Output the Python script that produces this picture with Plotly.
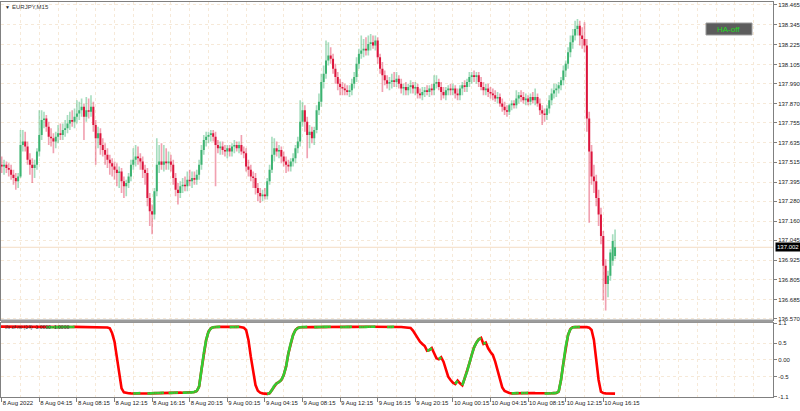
import plotly.graph_objects as go
from plotly.subplots import make_subplots

# ---------------- data (EURJPY M15, bars from 8 Aug 2022 00:00) ----------------
bar_index = list(range(263))

open_ = [
    137.47,137.50,137.49,137.50,137.48,137.47,137.44,137.42,137.40,137.43,
    137.62,137.64,137.61,137.53,137.50,137.48,137.50,137.58,137.68,137.77,
    137.78,137.73,137.67,137.66,137.64,137.67,137.69,137.68,137.71,137.72,
    137.75,137.77,137.76,137.79,137.81,137.83,137.85,137.79,137.83,137.82,
    137.85,137.74,137.66,137.69,137.62,137.59,137.56,137.53,137.51,137.49,
    137.47,137.45,137.46,137.40,137.37,137.39,137.43,137.50,137.53,137.55,
    137.54,137.52,137.47,137.45,137.30,137.22,137.20,137.34,137.50,137.52,
    137.50,137.52,137.51,137.52,137.50,137.42,137.35,137.33,137.37,137.38,
    137.37,137.41,137.40,137.42,137.41,137.44,137.50,137.59,137.65,137.67,
    137.68,137.69,137.67,137.62,137.60,137.61,137.59,137.58,137.60,137.58,
    137.61,137.62,137.60,137.62,137.58,137.57,137.49,137.47,137.43,137.42,
    137.36,137.33,137.31,137.32,137.31,137.40,137.47,137.56,137.60,137.58,
    137.59,137.55,137.52,137.50,137.49,137.52,137.54,137.60,137.64,137.76,
    137.83,137.76,137.68,137.70,137.66,137.71,137.83,137.88,138.00,138.05,
    138.13,138.16,138.14,138.08,138.03,137.99,137.97,137.96,137.95,137.94,
    137.95,137.99,138.03,138.11,138.17,138.19,138.20,138.19,138.23,138.24,
    138.22,138.25,138.15,138.08,138.04,138.01,137.99,138.00,138.01,138.00,
    138.02,137.99,137.96,137.97,137.95,137.97,137.98,137.96,137.97,137.93,
    137.92,137.94,137.95,137.94,137.96,137.95,137.99,138.00,137.97,137.94,
    137.92,137.95,137.96,137.95,137.96,137.93,137.92,137.96,137.98,137.97,
    138.00,138.03,138.04,138.03,138.04,138.00,137.97,137.95,137.96,137.94,
    137.93,137.92,137.90,137.91,137.87,137.85,137.83,137.82,137.86,137.87,
    137.86,137.90,137.92,137.91,137.89,137.90,137.88,137.91,137.89,137.91,
    137.87,137.83,137.81,137.80,137.84,137.89,137.93,137.95,137.96,137.98,
    138.01,138.07,138.11,138.18,138.24,138.28,138.32,138.34,138.28,138.26,
    138.22,137.78,137.58,137.43,137.40,137.30,137.20,137.07,136.89,136.78,
    136.83,136.92,136.95,
]

high = [
    137.58,137.55,137.53,137.52,137.51,137.50,137.47,137.45,137.45,137.71,
    137.71,137.70,137.64,137.57,137.54,137.53,137.60,137.83,137.83,137.82,
    137.80,137.76,137.72,137.69,137.70,137.74,137.75,137.75,137.77,137.80,
    137.82,137.83,137.84,137.89,137.88,137.90,137.87,137.91,137.90,137.92,
    137.88,137.77,137.73,137.72,137.66,137.63,137.60,137.56,137.54,137.52,
    137.51,137.49,137.48,137.43,137.41,137.45,137.53,137.60,137.62,137.61,
    137.57,137.55,137.50,137.48,137.33,137.26,137.36,137.66,137.62,137.63,
    137.62,137.60,137.58,137.56,137.53,137.45,137.39,137.40,137.42,137.43,
    137.46,137.47,137.46,137.46,137.47,137.53,137.62,137.68,137.70,137.70,
    137.71,137.71,137.70,137.65,137.64,137.64,137.62,137.62,137.62,137.63,
    137.65,137.64,137.64,137.68,137.61,137.60,137.53,137.50,137.46,137.45,
    137.39,137.36,137.35,137.36,137.42,137.50,137.67,137.66,137.64,137.62,
    137.61,137.58,137.55,137.53,137.54,137.57,137.62,137.67,137.89,137.88,
    137.86,137.79,137.74,137.73,137.73,137.86,137.93,138.05,138.10,138.25,
    138.24,138.21,138.17,138.11,138.06,138.02,138.00,137.99,137.98,137.98,
    138.02,138.06,138.15,138.20,138.28,138.26,138.27,138.28,138.29,138.28,
    138.28,138.27,138.17,138.12,138.07,138.04,138.03,138.05,138.06,138.06,
    138.04,138.02,137.99,138.00,137.99,138.01,138.00,138.00,137.99,137.96,
    137.97,137.97,137.98,137.98,137.99,138.04,138.04,138.02,138.00,137.97,
    137.97,137.98,137.99,137.99,137.98,137.96,137.98,138.00,138.01,138.02,
    138.06,138.06,138.07,138.06,138.06,138.03,138.00,137.99,137.99,137.97,
    137.96,137.95,137.94,137.93,137.90,137.88,137.86,137.87,137.89,137.89,
    137.95,137.94,137.95,137.94,137.93,137.92,137.93,137.94,137.96,137.93,
    137.90,137.86,137.84,137.86,137.92,137.96,137.99,137.99,138.00,138.03,
    138.10,138.13,138.21,138.28,138.32,138.37,138.38,138.37,138.33,138.36,
    138.26,137.82,137.62,137.50,137.44,137.35,137.24,137.10,136.93,136.86,
    136.99,137.08,137.11,
]

low = [
    137.40,137.45,137.44,137.45,137.43,137.41,137.38,137.35,137.36,137.42,
    137.58,137.58,137.50,137.44,137.39,137.42,137.47,137.55,137.65,137.72,
    137.70,137.62,137.61,137.57,137.60,137.63,137.65,137.65,137.67,137.69,
    137.71,137.73,137.72,137.75,137.77,137.79,137.65,137.76,137.78,137.79,
    137.70,137.50,137.60,137.56,137.55,137.50,137.48,137.44,137.43,137.41,
    137.37,137.36,137.33,137.30,137.31,137.36,137.40,137.47,137.49,137.50,
    137.47,137.42,137.38,137.25,137.13,137.08,137.17,137.31,137.45,137.47,
    137.46,137.47,137.47,137.46,137.38,137.31,137.26,137.30,137.33,137.34,
    137.34,137.37,137.36,137.38,137.38,137.41,137.47,137.56,137.61,137.63,
    137.64,137.64,137.37,137.57,137.56,137.56,137.55,137.54,137.55,137.55,
    137.57,137.58,137.57,137.56,137.54,137.46,137.43,137.40,137.36,137.32,
    137.28,137.27,137.28,137.29,137.29,137.38,137.45,137.52,137.55,137.54,
    137.51,137.49,137.45,137.46,137.46,137.49,137.51,137.57,137.61,137.73,
    137.70,137.54,137.60,137.63,137.62,137.69,137.80,137.85,137.96,138.02,
    138.10,138.11,138.05,137.99,137.95,137.92,137.92,137.92,137.92,137.91,
    137.92,137.96,138.00,138.08,138.14,138.15,138.16,138.16,138.19,138.20,
    138.19,138.11,138.05,137.94,137.98,137.96,137.95,137.96,137.97,137.97,
    137.96,137.93,137.92,137.92,137.92,137.93,137.93,137.92,137.90,137.90,
    137.89,137.91,137.92,137.91,137.92,137.92,137.96,137.95,137.89,137.90,
    137.89,137.92,137.92,137.92,137.90,137.89,137.89,137.92,137.94,137.94,
    137.97,137.99,138.00,137.99,137.97,137.95,137.92,137.92,137.91,137.90,
    137.89,137.88,137.87,137.85,137.82,137.80,137.79,137.80,137.83,137.84,
    137.84,137.87,137.88,137.87,137.86,137.86,137.86,137.87,137.86,137.85,
    137.80,137.74,137.76,137.77,137.81,137.86,137.90,137.91,137.93,137.95,
    137.98,138.03,138.08,138.15,138.20,138.25,138.28,138.22,138.20,138.18,
    137.70,137.15,137.38,137.33,137.25,137.13,137.02,136.68,136.62,136.70,
    136.80,136.89,136.93,
]

close = [
    137.50,137.49,137.50,137.48,137.47,137.44,137.42,137.40,137.43,137.62,
    137.64,137.61,137.53,137.50,137.48,137.50,137.58,137.68,137.77,137.78,
    137.73,137.67,137.66,137.64,137.67,137.69,137.68,137.71,137.72,137.75,
    137.77,137.76,137.79,137.81,137.83,137.85,137.79,137.83,137.82,137.85,
    137.74,137.66,137.69,137.62,137.59,137.56,137.53,137.51,137.49,137.47,
    137.45,137.46,137.40,137.37,137.39,137.43,137.50,137.53,137.55,137.54,
    137.52,137.47,137.45,137.30,137.22,137.20,137.34,137.50,137.52,137.50,
    137.52,137.51,137.52,137.50,137.42,137.35,137.33,137.37,137.38,137.37,
    137.41,137.40,137.42,137.41,137.44,137.50,137.59,137.65,137.67,137.68,
    137.69,137.67,137.62,137.60,137.61,137.59,137.58,137.60,137.58,137.61,
    137.62,137.60,137.62,137.58,137.57,137.49,137.47,137.43,137.42,137.36,
    137.33,137.31,137.32,137.31,137.40,137.47,137.56,137.60,137.58,137.59,
    137.55,137.52,137.50,137.49,137.52,137.54,137.60,137.64,137.76,137.83,
    137.76,137.68,137.70,137.66,137.71,137.83,137.88,138.00,138.05,138.13,
    138.16,138.14,138.08,138.03,137.99,137.97,137.96,137.95,137.94,137.95,
    137.99,138.03,138.11,138.17,138.19,138.20,138.19,138.23,138.24,138.22,
    138.25,138.15,138.08,138.04,138.01,137.99,138.00,138.01,138.00,138.02,
    137.99,137.96,137.97,137.95,137.97,137.98,137.96,137.97,137.93,137.92,
    137.94,137.95,137.94,137.96,137.95,137.99,138.00,137.97,137.94,137.92,
    137.95,137.96,137.95,137.96,137.93,137.92,137.96,137.98,137.97,138.00,
    138.03,138.04,138.03,138.04,138.00,137.97,137.95,137.96,137.94,137.93,
    137.92,137.90,137.91,137.87,137.85,137.83,137.82,137.86,137.87,137.86,
    137.90,137.92,137.91,137.89,137.90,137.88,137.91,137.89,137.91,137.87,
    137.83,137.81,137.80,137.84,137.89,137.93,137.95,137.96,137.98,138.01,
    138.07,138.11,138.18,138.24,138.28,138.32,138.34,138.28,138.26,138.22,
    137.78,137.58,137.43,137.40,137.30,137.20,137.07,136.89,136.78,136.83,
    136.97,137.04,137.002,
]

# inverse-fisher RSI(14) indicator values per bar
ift = [
    1.000,0.999,0.998,0.997,0.996,0.995,0.994,0.993,0.992,0.991,0.990,
    0.989,0.988,0.987,0.986,0.985,0.984,0.983,0.982,0.981,0.980,
    0.981,0.982,0.983,0.984,0.985,0.986,0.987,0.988,0.989,0.990,0.991,0.992,
    0.991,0.990,0.989,0.988,0.987,0.986,0.985,0.984,0.983,0.982,0.981,0.980,0.979,
    0.975,0.95,0.80,0.55,0.10,-0.45,-0.85,-0.97,-0.99,-0.995,-1.0,-1.003,
    -1.0,-0.997,-0.994,
    -0.997,-1.0,-1.003,
    -1.0,-0.997,-0.994,-0.991,-0.988,-0.985,-0.982,
    -0.985,-0.988,
    -0.985,-0.982,-0.979,-0.976,
    -0.979,-0.982,
    -0.979,-0.976,-0.973,-0.97,-0.96,
    -0.93,-0.8,-0.3,0.2,0.6,0.85,0.95,0.98,
    0.99,0.993,0.996,
    0.993,0.99,0.987,0.984,
    0.987,0.99,0.993,0.996,
    0.99,0.97,0.9,0.6,0.1,-0.4,-0.75,-0.92,-0.98,-1.0,-1.01,-1.015,
    -1.0,-0.9,-0.77,-0.7,-0.66,-0.6,-0.45,-0.2,0.2,0.5,0.75,0.9,0.96,0.98,0.985,0.99,0.993,
    0.99,0.987,0.984,
    0.986,0.988,0.990,0.992,0.994,0.996,0.998,
    0.995,0.992,0.989,0.986,
    0.988,0.990,0.992,0.994,0.996,
    0.993,0.990,0.987,
    0.989,0.991,0.993,0.995,0.997,0.998,0.999,
    0.997,0.995,0.993,0.991,0.989,
    0.991,0.993,0.995,
    0.993,0.991,0.989,0.987,0.985,0.983,
    0.96,0.88,0.76,0.64,0.55,0.48,0.42,0.28,0.30,0.36,
    0.22,0.05,0.02,0.08,-0.05,-0.3,-0.5,-0.6,-0.68,-0.72,
    -0.62,-0.70,-0.76,-0.55,-0.35,-0.1,0.15,0.38,0.52,0.62,
    0.66,0.48,0.52,0.35,0.24,0.15,-0.05,-0.3,-0.6,-0.82,
    -0.93,-0.97,-0.99,-1.0,
    -0.997,-0.994,-0.991,-0.994,-0.991,-0.988,-0.985,
    -0.988,-0.991,-0.994,-0.997,-1.0,-1.003,-1.006,
    -1.003,-1.0,-0.997,-0.994,-0.99,-0.95,
    -0.6,-0.1,0.4,0.75,0.93,0.98,0.985,0.99,0.993,
    0.99,0.987,0.984,0.97,
    0.9,0.6,0.0,-0.6,-0.95,-0.99,-1.0,-1.002,-1.004,-1.006,-1.008,
]

time_tick_bars = [1, 17, 33, 49, 65, 81, 97, 113, 129, 145, 161, 177, 193, 209, 225, 241, 257]
time_tick_labels = ["8 Aug 2022", "8 Aug 04:15", "8 Aug 08:15", "8 Aug 12:15", "8 Aug 16:15",
                    "8 Aug 20:15", "9 Aug 00:15", "9 Aug 04:15", "9 Aug 08:15", "9 Aug 12:15",
                    "9 Aug 16:15", "9 Aug 20:15", "10 Aug 00:15", "10 Aug 04:15", "10 Aug 08:15",
                    "10 Aug 12:15", "10 Aug 16:15"]
price_ticks = [138.465, 138.345, 138.225, 138.105, 137.990, 137.870, 137.755, 137.635, 137.515,
               137.395, 137.280, 137.160, 137.045, 136.925, 136.805, 136.685, 136.570]
price_tick_labels = ["138.465", "138.345", "138.225", "138.105", "137.990", "137.870", "137.755",
                     "137.635", "137.515", "137.395", "137.280", "137.160", "137.045", "136.925",
                     "136.805", "136.685", "136.570"]
ind_ticks = [1.1, 0.5, 0.0, -0.5, -1.1]
ind_tick_labels = ["1.1", "0.5", "0.00", "-0.5", "-1.1"]

assert len(open_) == len(high) == len(low) == len(close) == len(ift) == len(bar_index)

# ---------------- styling ----------------
FONT = "Liberation Sans, Arial, sans-serif"
GRID = "#f6e9d8"
AXC = "#808080"
TXT = "#222222"
UP_BODY, DN_BODY = "#3cb371", "#dc143c"
UP_WICK, DN_WICK = "rgba(60,179,113,0.45)", "rgba(220,20,60,0.40)"

is_up = [c >= o for o, c in zip(open_, close)]
body_base = [min(o, c) for o, c in zip(open_, close)]
body_len = [max(abs(c - o), 0.004) for o, c in zip(open_, close)]
wick_len = [h - l for h, l in zip(high, low)]

fig = make_subplots(rows=2, cols=1)

fig.add_trace(go.Bar(x=bar_index, y=wick_len, base=low, width=0.7,
                     marker=dict(color=[UP_WICK if u else DN_WICK for u in is_up], line=dict(width=0)),
                     hoverinfo="skip", showlegend=False), row=1, col=1)
fig.add_trace(go.Bar(x=bar_index, y=body_len, base=body_base, width=0.85,
                     marker=dict(color=[UP_BODY if u else DN_BODY for u in is_up], line=dict(width=0)),
                     hoverinfo="skip", showlegend=False), row=1, col=1)

# indicator: red everywhere, green overlay where rising
gx, gy = [], []
for i in range(len(ift) - 1):
    if ift[i + 1] > ift[i]:
        gx += [bar_index[i], bar_index[i + 1], None]
        gy += [ift[i], ift[i + 1], None]
fig.add_trace(go.Scatter(x=bar_index, y=ift, mode="lines",
                         line=dict(color="#ff0000", width=2.6), hoverinfo="skip", showlegend=False),
              row=2, col=1)
fig.add_trace(go.Scatter(x=gx, y=gy, mode="lines", connectgaps=False,
                         line=dict(color="#32cd32", width=2.6), hoverinfo="skip", showlegend=False),
              row=2, col=1)

XR = [0.702, 329.21]
common_x = dict(range=XR, showgrid=True, gridcolor=GRID, griddash="dot", gridwidth=1,
                tickmode="array", tickvals=time_tick_bars, zeroline=False,
                showline=True, linecolor=AXC, linewidth=1, mirror=True, automargin=False,
                minor=dict(tickmode="linear", tick0=1, dtick=8, showgrid=True,
                           gridcolor=GRID, griddash="dot", ticks=""))
fig.update_xaxes(**common_x)
fig.update_xaxes(showticklabels=False, ticks="", row=1, col=1)
fig.update_xaxes(ticktext=time_tick_labels, ticks="outside", ticklen=4, tickcolor=AXC,
                 ticklabelposition="outside right", tickangle=0,
                 tickfont=dict(family=FONT, size=6, color=TXT), row=2, col=1)

fig.update_yaxes(side="right", showgrid=True, gridcolor=GRID, griddash="dot", zeroline=False,
                 showline=True, linecolor=AXC, linewidth=1, mirror=True, automargin=False,
                 ticks="outside", ticklen=3, tickcolor=AXC,
                 tickfont=dict(family=FONT, size=6, color=TXT), tickmode="array")
fig.update_yaxes(range=[136.560, 138.483], tickvals=price_ticks, ticktext=price_tick_labels,
                 domain=[0.1937, 1.0], row=1, col=1)
fig.update_yaxes(range=[-1.109, 1.1], tickvals=ind_ticks, ticktext=ind_tick_labels,
                 domain=[0.0, 0.1866], row=2, col=1)

last_price = close[-1]

fig.update_layout(
    width=800, height=411,
    margin=dict(l=1, r=27, t=2, b=14, autoexpand=False),
    paper_bgcolor="white", plot_bgcolor="white",
    barmode="overlay", hovermode=False,
    font=dict(family=FONT, size=6, color=TXT),
    showlegend=False,
    shapes=[
        # current price line
        dict(type="line", xref="x", yref="y", x0=XR[0], x1=XR[1], y0=last_price, y1=last_price,
             line=dict(color="#f4dcc4", width=1), layer="below"),
        # separator between panels
        dict(type="rect", xref="paper", yref="paper", x0=0, x1=1, y0=0.1878, y1=0.1962,
             fillcolor="#9c9c9c", line=dict(width=0)),
        # HA-off button
        dict(type="rect", xref="paper", yref="paper", x0=0.9132, x1=0.9728, y0=0.9165, y1=0.9468,
             fillcolor="#5c5c5c", line=dict(color="#9a9a9a", width=1)),
    ],
    annotations=[
        dict(text="▼", xref="paper", yref="paper", x=0.002, y=0.987, xanchor="left", yanchor="middle",
             showarrow=False, font=dict(family=FONT, size=5, color="#222222")),
        dict(text="EURJPY,M15", xref="paper", yref="paper", x=0.0115, y=0.987, xanchor="left",
             yanchor="middle", showarrow=False, font=dict(family=FONT, size=6, color="#333333")),
        dict(text="HA-off", xref="paper", yref="paper", x=0.943, y=0.9316, xanchor="center",
             yanchor="middle", showarrow=False, font=dict(family=FONT, size=8, color="#22dd22")),
        dict(text="ifs of rsi (14) -1.0000 -1.0000", xref="paper", yref="paper", x=0.003, y=0.178,
             xanchor="left", yanchor="middle", showarrow=False,
             font=dict(family=FONT, size=5, color="#333333")),
        dict(text="137.002", xref="paper", yref="y", x=1.0, y=last_price, xanchor="left",
             yanchor="middle", xshift=2, showarrow=False, bgcolor="#000000", borderpad=1,
             font=dict(family=FONT, size=6, color="#ffffff")),
    ],
)

fig.write_html("out.html", config={"displayModeBar": False, "staticPlot": True},
               post_script="document.body.style.margin='0px';document.body.style.overflow='hidden';")
